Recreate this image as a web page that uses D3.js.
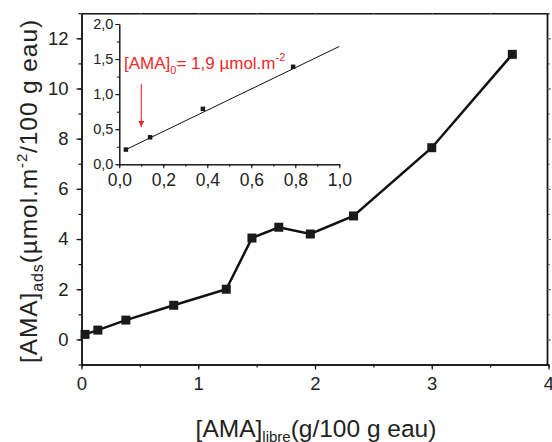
<!DOCTYPE html>
<html><head><meta charset="utf-8">
<script src="https://cdn.jsdelivr.net/npm/d3@7"></script>
<style>
html,body{margin:0;padding:0;background:#fff;}
svg{display:block;font-family:"Liberation Sans",Arial,Helvetica,sans-serif;}
</style></head>
<body><svg id="c" width="552" height="442"></svg>
<script>
// Main series
const xLibre = [0.03, 0.14, 0.38, 0.79, 1.24, 1.46, 1.69, 1.96, 2.33, 3.00, 3.69];
const yAds   = [0.20, 0.37, 0.77, 1.36, 2.00, 4.04, 4.47, 4.20, 4.92, 7.64, 11.36];
// Inset series
const xInset = [0.03, 0.14, 0.38, 0.79];
const yInset = [0.21, 0.385, 0.79, 1.39];
// Inset linear fit line endpoints
const xFit = [0.03, 1.0];
const yFit = [0.21, 1.68];
// Ticks
const xMainTicks = [0, 1, 2, 3, 4];
const yMainTicks = [0, 2, 4, 6, 8, 10, 12];
const xInsetTicks = [0, 0.2, 0.4, 0.6, 0.8, 1.0];
const yInsetTicks = [0, 0.5, 1.0, 1.5, 2.0];
const annotation = {x: 0.1, label: "1,9 µmol.m"};

const svg = d3.select("#c");
const ink = "#111";
const lab = "#222";

const x = d3.scaleLinear().domain([0, 4]).range([81.5, 548.5]);
const y = d3.scaleLinear().domain([-1, 13]).range([364.5, 13.2]);

const comma = f => v => f(v).replace(".", ",");

function styleAxis(g, fs) {
  g.select(".domain").attr("stroke", ink).attr("stroke-width", 1.4);
  g.selectAll(".tick line").attr("stroke", ink).attr("stroke-width", 1.2);
  g.selectAll(".tick text").attr("fill", lab).attr("font-size", fs).attr("font-family", null);
}

// Main minor ticks
const xMinor = d3.range(0, 4.01, 0.5);
const yMinor = d3.range(-1, 13.01, 1);
svg.append("g").attr("transform", `translate(0,${y(-1)})`)
  .call(d3.axisBottom(x).tickValues(xMinor).tickSize(3).tickSizeOuter(0).tickFormat(""))
  .call(g => styleAxis(g, 18));
svg.append("g").attr("transform", `translate(0,${y(13)})`)
  .call(d3.axisBottom(x).tickValues(xMinor).tickSize(2).tickSizeOuter(0).tickFormat(""))
  .call(g => styleAxis(g, 18))
  .call(g => g.selectAll(".tick line").attr("stroke", "#999").attr("stroke-width", 0.8));
svg.append("g").attr("transform", `translate(${x(0)},0)`)
  .call(d3.axisLeft(y).tickValues(yMinor).tickSize(3).tickSizeOuter(0).tickFormat(""))
  .call(g => styleAxis(g, 18));
svg.append("g").attr("transform", `translate(${x(4) - 1.5},0)`)
  .call(d3.axisRight(y).tickValues(yMinor).tickSize(3).tickSizeOuter(0).tickFormat(""))
  .call(g => styleAxis(g, 18))
  .call(g => g.selectAll(".tick line").attr("stroke", "#666").attr("stroke-width", 0.9));

// Main major ticks
svg.append("g").attr("transform", `translate(0,${y(-1)})`)
  .call(d3.axisBottom(x).tickValues(xMainTicks).tickSize(5).tickSizeOuter(0).tickPadding(7).tickFormat(d3.format("d")))
  .call(g => styleAxis(g, 18.5));
svg.append("g").attr("transform", `translate(${x(0)},0)`)
  .call(d3.axisLeft(y).tickValues(yMainTicks).tickSize(5).tickSizeOuter(0).tickPadding(8).tickFormat(d3.format("d")))
  .call(g => styleAxis(g, 18.5));
svg.append("g").attr("transform", `translate(${x(4) - 1.5},0)`)
  .call(d3.axisRight(y).tickValues(yMainTicks).tickSize(4).tickSizeOuter(0).tickFormat(""))
  .call(g => styleAxis(g, 18))
  .call(g => g.selectAll(".tick line").attr("stroke", "#666").attr("stroke-width", 0.9));

// Main line + markers
const mainData = xLibre.map((v, i) => [v, yAds[i]]);
svg.append("path").datum(mainData)
  .attr("fill", "none").attr("stroke", ink).attr("stroke-width", 2.5)
  .attr("d", d3.line().x(d => x(d[0])).y(d => y(d[1])));
const ms = 9;
svg.append("g").selectAll("rect").data(mainData).join("rect")
  .attr("x", d => x(d[0]) - ms / 2).attr("y", d => y(d[1]) - ms / 2)
  .attr("width", ms).attr("height", ms).attr("fill", "#1a1a1a");

// Axis titles
const xt = svg.append("text").attr("x", 316).attr("y", 436.5).attr("text-anchor", "middle")
  .attr("font-size", 24.5).attr("fill", lab);
xt.append("tspan").text("[AMA]");
xt.append("tspan").attr("font-size", 15).attr("dy", 5).text("libre");
xt.append("tspan").attr("dy", -5).text("(g/100 g eau)");

const yt = svg.append("text").attr("transform", "translate(36.5,191) rotate(-90)")
  .attr("text-anchor", "middle").attr("font-size", 24.5).attr("fill", lab)
  .style("letter-spacing", "0.9px");
yt.append("tspan").text("[AMA]");
yt.append("tspan").attr("font-size", 16).attr("dy", 6).text("ads");
yt.append("tspan").attr("dy", -6).text("(µmol.m");
yt.append("tspan").attr("font-size", 15).attr("dy", -10).text("-2");
yt.append("tspan").attr("dy", 10).text("/100 g eau)");

// ---- Inset ----
const xi = d3.scaleLinear().domain([0, 1]).range([119.3, 339.3]);
const yi = d3.scaleLinear().domain([0, 2]).range([164.3, 24]);

function styleInset(g, fs) {
  g.select(".domain").attr("stroke", ink).attr("stroke-width", 1);
  g.selectAll(".tick line").attr("stroke", ink).attr("stroke-width", 1);
  g.selectAll(".tick text").attr("fill", lab).attr("font-size", fs).attr("font-family", null);
}
svg.append("g").attr("transform", `translate(0,${yi(0)})`)
  .call(d3.axisBottom(xi).tickValues(d3.range(0, 1.001, 0.1)).tickSize(2.5).tickSizeOuter(0).tickFormat(""))
  .call(g => styleInset(g, 17));
svg.append("g").attr("transform", `translate(0,${yi(0)})`)
  .call(d3.axisBottom(xi).tickValues(xInsetTicks).tickSize(4).tickSizeOuter(0).tickPadding(5).tickFormat(comma(d3.format(".1f"))))
  .call(g => styleInset(g, 17.5));
svg.append("g").attr("transform", `translate(${xi(0)},0)`)
  .call(d3.axisLeft(yi).tickValues(d3.range(0, 2.001, 0.25)).tickSize(2.5).tickSizeOuter(0).tickFormat(""))
  .call(g => styleInset(g, 13));
svg.append("g").attr("transform", `translate(${xi(0)},0)`)
  .call(d3.axisLeft(yi).tickValues(yInsetTicks).tickSize(4).tickSizeOuter(0).tickPadding(2).tickFormat(comma(d3.format(".1f"))))
  .call(g => styleInset(g, 14.5));

const fitData = xFit.map((v, i) => [v, yFit[i]]);
svg.append("path").datum(fitData)
  .attr("fill", "none").attr("stroke", ink).attr("stroke-width", 1)
  .attr("d", d3.line().x(d => xi(d[0])).y(d => yi(d[1])));
const insetData = xInset.map((v, i) => [v, yInset[i]]);
const mi = 4.5;
svg.append("g").selectAll("rect").data(insetData).join("rect")
  .attr("x", d => xi(d[0]) - mi / 2).attr("y", d => yi(d[1]) - mi / 2)
  .attr("width", mi).attr("height", mi).attr("fill", "#1a1a1a");

// Annotation
const red = "#f0282d";
const at = svg.append("text").attr("x", 124).attr("y", 69).attr("font-size", 17).attr("fill", red);
at.append("tspan").text("[AMA]");
at.append("tspan").attr("font-size", 11).attr("dy", 5).text("0");
at.append("tspan").attr("dy", -5).text("= " + annotation.label);
at.append("tspan").attr("font-size", 11).attr("dy", -8).text("-2");

svg.append("defs").append("marker").attr("id", "ah").attr("viewBox", "0 0 10 10")
  .attr("refX", 10).attr("refY", 5).attr("markerWidth", 6).attr("markerHeight", 6)
  .attr("markerUnits", "userSpaceOnUse").attr("orient", "auto")
  .append("path").attr("d", "M0,0 L10,5 L0,10 Z").attr("fill", red);
svg.append("line").attr("x1", xi(annotation.x)).attr("x2", xi(annotation.x))
  .attr("y1", 84).attr("y2", 127).attr("stroke", red).attr("stroke-width", 1.1)
  .attr("marker-end", "url(#ah)");
</script></body></html>
